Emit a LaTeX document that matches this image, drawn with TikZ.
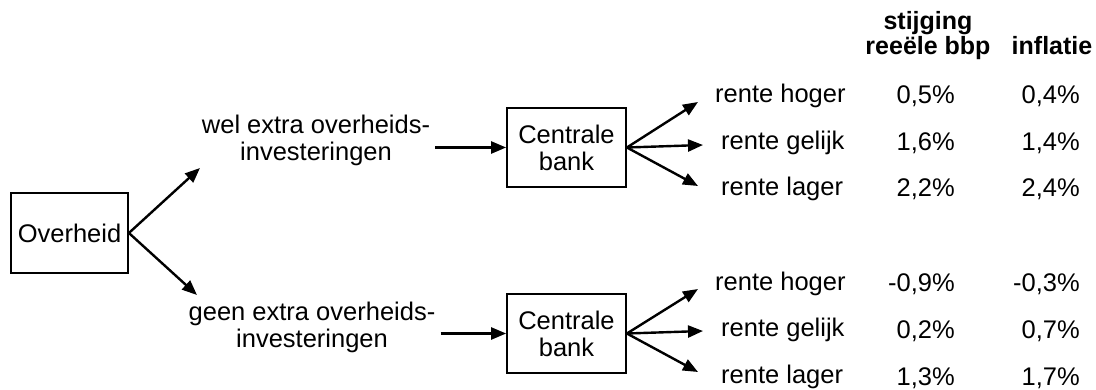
\documentclass[tikz,border=0pt]{standalone}
\usepackage{fontspec}
\setmainfont{Liberation Sans}
\usetikzlibrary{arrows.meta,calc}
\begin{document}
\begin{tikzpicture}[x=1pt,y=-1pt,
  font=\fontsize{25.5}{27}\selectfont,
  box/.style={draw,line width=1.8pt,inner sep=0pt,minimum width=117pt,minimum height=80pt,align=center},
  lbl/.style={inner sep=0pt,align=center},
  txt/.style={inner sep=0pt},
  arr/.style={line width=2.4pt,-{Triangle[length=15pt,width=12pt]}}
]
\useasboundingbox (0,0) rectangle (1096,390);
% boxes
\node[box] (ov) at (69.5,233) {Overheid};
\node[box,minimum width=119pt,minimum height=79pt] (cb1) at (566.5,147.5) {Centrale\\bank};
\node[box,minimum width=119pt,minimum height=79pt] (cb2) at (566.5,333.5) {Centrale\\bank};
% branch labels
\node[lbl,anchor=base] (wel) at (316,161) {wel extra overheids-\\investeringen};
\node[lbl,anchor=base] (geen) at (312,348) {geen extra overheids-\\investeringen};
% header
\node[lbl,anchor=base,font=\fontsize{25}{25}\selectfont\bfseries] (h1) at (928,55) {stijging\\reeële bbp};
\node[txt,anchor=base,font=\fontsize{25}{25}\selectfont\bfseries] (h2) at (1052,55) {inflatie};
% outcomes upper
\node[txt,anchor=base west] (rh1) at (715,103) {rente hoger};
\node[txt,anchor=base west] (rg1) at (721,150) {rente gelijk};
\node[txt,anchor=base west] (rl1) at (721,196) {rente lager};
\node[txt,anchor=base east] (a1) at (955,104) {0,5\%};
\node[txt,anchor=base east] (a2) at (955,151) {1,6\%};
\node[txt,anchor=base east] (a3) at (955,197) {2,2\%};
\node[txt,anchor=base east] (b1) at (1080,104) {0,4\%};
\node[txt,anchor=base east] (b2) at (1080,151) {1,4\%};
\node[txt,anchor=base east] (b3) at (1080,197) {2,4\%};
% outcomes lower
\node[txt,anchor=base west] (rh2) at (715,291) {rente hoger};
\node[txt,anchor=base west] (rg2) at (721,337) {rente gelijk};
\node[txt,anchor=base west] (rl2) at (721,384) {rente lager};
\node[txt,anchor=base east] (c1) at (955,292) {-0,9\%};
\node[txt,anchor=base east] (c2) at (955,338) {0,2\%};
\node[txt,anchor=base east] (c3) at (955,385) {1,3\%};
\node[txt,anchor=base east] (d1) at (1080,292) {-0,3\%};
\node[txt,anchor=base east] (d2) at (1080,338) {0,7\%};
\node[txt,anchor=base east] (d3) at (1080,385) {1,7\%};
% arrow end points
\coordinate (ewel) at (200,168);
\coordinate (egeen) at (197,295);
\coordinate (t1) at (698,102);
\coordinate (t2) at (703,145);
\coordinate (t3) at (698,186);
\coordinate (u1) at (698,289);
\coordinate (u2) at (703,331);
\coordinate (u3) at (698,372);
% connectors
\draw[arr] (ov.east) -- (ewel);
\draw[arr] (ov.east) -- (egeen);
\draw[arr] ($(wel.east |- cb1.west)+(5,0)$) -- (cb1.west);
\draw[arr] ($(geen.east |- cb2.west)+(5,0)$) -- (cb2.west);
\draw[arr] (cb1.east) -- (t1);
\draw[arr] (cb1.east) -- (t2);
\draw[arr] (cb1.east) -- (t3);
\draw[arr] (cb2.east) -- (u1);
\draw[arr] (cb2.east) -- (u2);
\draw[arr] (cb2.east) -- (u3);
\end{tikzpicture}
\end{document}
